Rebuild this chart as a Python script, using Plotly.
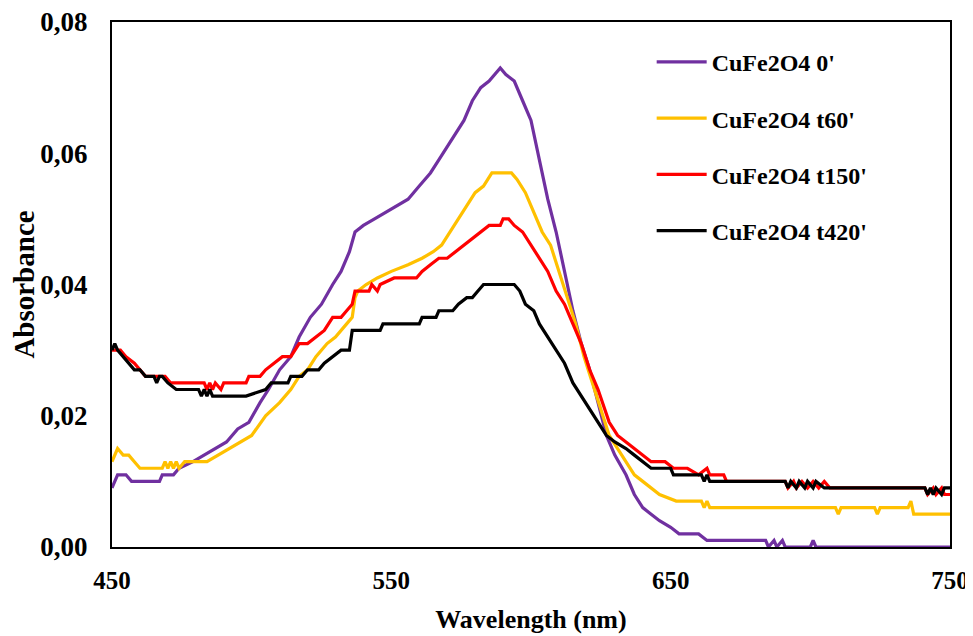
import plotly.graph_objects as go

# ---- data ----
wl_0 = [450, 452, 455, 457, 467, 468, 472, 474, 479, 483, 487, 491, 495, 499, 503, 506, 510, 514,
        517, 521, 525, 529, 532, 535, 537, 540, 544, 548, 552, 556, 560, 564, 567, 570, 573, 576,
        579, 582, 585, 587, 589, 591, 594, 597, 600, 603, 606, 609, 612, 615, 618, 621, 624, 627,
        630, 634, 637, 640, 643, 646, 650, 653, 660, 663, 684, 685, 687, 688, 690, 691, 700, 701,
        702, 750]
abs_0 = [0.009, 0.011, 0.011, 0.010, 0.010, 0.011, 0.011, 0.012, 0.013, 0.014, 0.015, 0.016, 0.018,
         0.019, 0.022, 0.024, 0.027, 0.029, 0.032, 0.035, 0.037, 0.040, 0.042, 0.045, 0.048, 0.049,
         0.050, 0.051, 0.052, 0.053, 0.055, 0.057, 0.059, 0.061, 0.063, 0.065, 0.068, 0.070, 0.071,
         0.072, 0.073, 0.072, 0.071, 0.068, 0.065, 0.059, 0.053, 0.048, 0.042, 0.036, 0.031, 0.027,
         0.022, 0.017, 0.014, 0.011, 0.008, 0.006, 0.005, 0.004, 0.003, 0.002, 0.002, 0.001, 0.001,
         0.000, 0.001, 0.000, 0.001, 0.000, 0.000, 0.001, 0.000, 0.000]

wl_60 = [450, 452, 454, 456, 458, 460, 468, 469, 470, 471, 472, 473, 474, 476, 484, 488, 492, 496,
         500, 505, 510, 514, 517, 520, 523, 527, 530, 534, 536, 537, 538, 541, 545, 550, 556, 561,
         565, 568, 571, 574, 577, 580, 583, 586, 593, 595, 598, 601, 604, 607, 610, 613, 616, 619,
         622, 625, 628, 631, 634, 637, 640, 643, 646, 652, 661, 662, 663, 664, 709, 710, 711, 723,
         724, 725, 735, 736, 737, 750]
abs_60 = [0.013, 0.015, 0.014, 0.014, 0.013, 0.012, 0.012, 0.013, 0.012, 0.013, 0.012, 0.013, 0.012,
          0.013, 0.013, 0.014, 0.015, 0.016, 0.017, 0.020, 0.022, 0.024, 0.026, 0.027, 0.029, 0.031,
          0.032, 0.034, 0.035, 0.038, 0.039, 0.040, 0.041, 0.042, 0.043, 0.044, 0.045, 0.046, 0.048,
          0.050, 0.052, 0.054, 0.055, 0.057, 0.057, 0.056, 0.054, 0.051, 0.048, 0.046, 0.042, 0.038,
          0.034, 0.029, 0.025, 0.021, 0.017, 0.015, 0.013, 0.011, 0.010, 0.009, 0.008, 0.007, 0.007,
          0.006, 0.007, 0.006, 0.006, 0.005, 0.006, 0.006, 0.005, 0.006, 0.006, 0.007, 0.005, 0.005]

wl_150 = [450, 453, 455, 458, 460, 462, 469, 471, 483, 484, 485, 486, 487, 489, 490, 498, 499, 503,
          505, 508, 511, 514, 517, 520, 523, 526, 529, 532, 534, 536, 537, 542, 543, 545, 546, 551,
          559, 561, 564, 567, 570, 573, 576, 579, 582, 585, 589, 590, 592, 594, 597, 600, 603, 606,
          609, 612, 615, 618, 621, 624, 628, 631, 634, 637, 640, 643, 648, 651, 656, 660, 663, 664,
          669, 670, 691, 692, 694, 695, 697, 699, 701, 703, 705, 707, 741, 742, 744, 745, 747, 748,
          750]
abs_150 = [0.030, 0.030, 0.029, 0.028, 0.027, 0.026, 0.026, 0.025, 0.025, 0.024, 0.025, 0.024,
           0.025, 0.024, 0.025, 0.025, 0.026, 0.026, 0.027, 0.028, 0.029, 0.029, 0.031, 0.031, 0.032,
           0.033, 0.035, 0.035, 0.036, 0.037, 0.039, 0.039, 0.040, 0.039, 0.040, 0.041, 0.041, 0.042,
           0.043, 0.044, 0.044, 0.045, 0.046, 0.047, 0.048, 0.049, 0.049, 0.050, 0.050, 0.049, 0.048,
           0.046, 0.044, 0.042, 0.039, 0.037, 0.034, 0.031, 0.027, 0.024, 0.019, 0.017, 0.016, 0.015,
           0.014, 0.013, 0.013, 0.012, 0.012, 0.011, 0.012, 0.011, 0.011, 0.010, 0.010, 0.009, 0.010,
           0.009, 0.010, 0.009, 0.010, 0.009, 0.010, 0.009, 0.009, 0.008, 0.009, 0.008, 0.009, 0.008,
           0.008]

wl_420 = [450, 451, 452, 454, 456, 458, 460, 462, 465, 466, 467, 468, 470, 473, 481, 482, 483, 484,
          485, 486, 498, 505, 507, 513, 514, 518, 520, 524, 526, 529, 532, 535, 536, 546, 547, 560,
          561, 566, 567, 572, 574, 577, 579, 581, 583, 594, 596, 598, 601, 603, 606, 609, 612, 615,
          618, 621, 624, 627, 630, 634, 637, 640, 643, 650, 651, 661, 662, 663, 664, 691, 692, 693,
          695, 696, 698, 699, 701, 702, 705, 741, 742, 743, 744, 745, 747, 748, 750]
abs_420 = [0.030, 0.031, 0.030, 0.029, 0.028, 0.027, 0.027, 0.026, 0.026, 0.025, 0.026, 0.026,
           0.025, 0.024, 0.024, 0.023, 0.024, 0.023, 0.024, 0.023, 0.023, 0.024, 0.025, 0.025, 0.026,
           0.026, 0.027, 0.027, 0.028, 0.029, 0.030, 0.030, 0.033, 0.033, 0.034, 0.034, 0.035, 0.035,
           0.036, 0.036, 0.037, 0.038, 0.038, 0.039, 0.040, 0.040, 0.039, 0.037, 0.036, 0.034, 0.032,
           0.030, 0.028, 0.025, 0.023, 0.021, 0.019, 0.017, 0.016, 0.015, 0.014, 0.013, 0.012, 0.012,
           0.011, 0.011, 0.010, 0.011, 0.010, 0.010, 0.009, 0.010, 0.009, 0.010, 0.009, 0.010, 0.009,
           0.010, 0.009, 0.009, 0.008, 0.009, 0.008, 0.009, 0.008, 0.009, 0.009]

series_names = ["CuFe2O4 0'", "CuFe2O4 t60'", "CuFe2O4 t150'", "CuFe2O4 t420'"]
series_colors = ["#7030A0", "#FFC000", "#FF0000", "#000000"]
x_ticks = [450, 550, 650, 750]
y_ticks = [0.00, 0.02, 0.04, 0.06, 0.08]

FONT = "Liberation Serif, Times New Roman, serif"

fig = go.Figure()
for i, (xs, ys) in enumerate([(wl_0, abs_0), (wl_60, abs_60), (wl_150, abs_150), (wl_420, abs_420)]):
    fig.add_trace(go.Scatter(
        x=xs, y=ys, mode="lines", name=series_names[i], legendgroup=f"g{i}",
        line=dict(color=series_colors[i], width=3.2),
    ))

fig.update_layout(
    width=965, height=628,
    margin=dict(l=104, r=23, t=14, b=89),
    plot_bgcolor="white", paper_bgcolor="white",
    separators=", ",
    font=dict(family=FONT, color="black", size=24, weight="bold"),
    showlegend=True,
    legend=dict(
        x=0.644, y=0.966, xanchor="left", yanchor="top",
        bgcolor="rgba(0,0,0,0)", borderwidth=0,
        font=dict(family=FONT, size=24, color="black", weight="bold"),
        tracegroupgap=22, itemwidth=50,
    ),
)
fig.update_xaxes(
    range=[450, 750], tickvals=x_ticks, showgrid=False, zeroline=False, automargin=False,
    showline=True, mirror=True, linecolor="black", linewidth=2,
    ticks="", ticklabelstandoff=10, ticklabeloverflow="allow",
    tickfont=dict(family=FONT, size=25, color="black", weight="bold"),
    title=dict(text="Wavelength (nm)", standoff=17,
               font=dict(family=FONT, size=26, color="black", weight="bold")),
)
fig.update_yaxes(
    range=[0, 0.08], tickvals=y_ticks, tickformat=".2f", showgrid=False, zeroline=False,
    automargin=False,
    showline=True, mirror=True, linecolor="black", linewidth=2,
    ticks="", ticklabelstandoff=17, ticklabeloverflow="allow",
    tickfont=dict(family=FONT, size=27, color="black", weight="bold"),
    title=dict(text="Absorbance", standoff=8,
               font=dict(family=FONT, size=29, color="black", weight="bold")),
)

fig.write_html("out.html")
